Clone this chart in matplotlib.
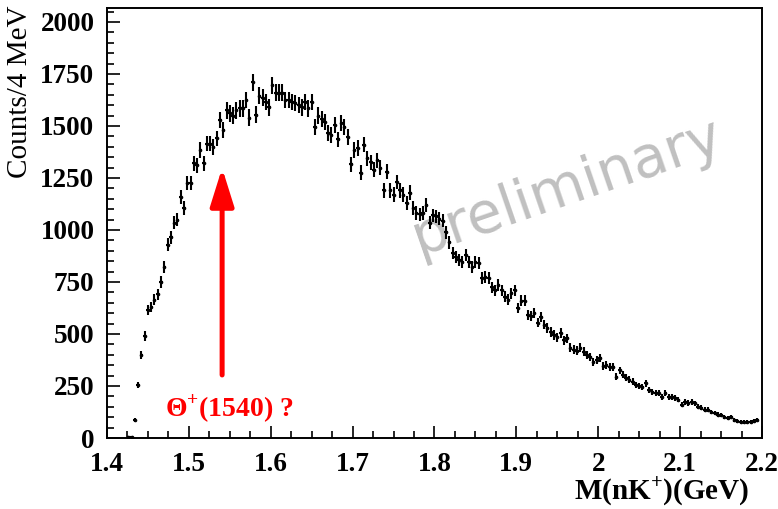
# nK+ invariant mass spectrum (counts / 4 MeV), ROOT-like look
import numpy as np
import matplotlib.pyplot as plt
from matplotlib.ticker import MultipleLocator, FuncFormatter

# ----------------------------------------------------
# data
# ----------------------------------------------------
bin_width = 0.004          # GeV
first_edge = 1.424         # lower edge of the first filled bin
counts = [
    3, 6, 85, 255, 400, 490, 615, 630, 665, 690,
    750, 820, 930, 965, 1035, 1050, 1160, 1105, 1225, 1225,
    1320, 1310, 1385, 1320, 1415, 1415, 1400, 1440, 1530, 1480,
    1575, 1560, 1550, 1575, 1585, 1585, 1625, 1540, 1710, 1555,
    1645, 1635, 1615, 1590, 1695, 1660, 1660, 1660, 1625, 1625,
    1615, 1610, 1600, 1590, 1615, 1585, 1615, 1495, 1550, 1535,
    1520, 1465, 1455, 1505, 1435, 1515, 1495, 1445, 1315, 1385,
    1395, 1275, 1410, 1345, 1325, 1290, 1335, 1300, 1190, 1280,
    1190, 1170, 1230, 1190, 1170, 1130, 1180, 1105, 1080, 1075,
    1080, 1120, 1035, 1070, 1065, 1055, 1045, 990, 940, 890,
    870, 855, 845, 880, 845, 820, 845, 840, 770, 775,
    770, 725, 710, 735, 710, 680, 665, 695, 710, 625,
    660, 660, 590, 585, 600, 555, 580, 545, 530, 510,
    495, 485, 505, 470, 480, 435, 425, 420, 435, 415,
    400, 390, 365, 375, 385, 345, 350, 340, 340, 295,
    325, 305, 290, 280, 270, 255, 250, 245, 262, 232,
    222, 218, 215, 197, 215, 198, 197, 193, 185, 160,
    172, 168, 172, 167, 150, 145, 136, 135, 125, 120,
    112, 110, 102, 97, 100, 88, 80, 77, 77, 77,
    77, 82, 85,
]
x_ticks = [1.4, 1.5, 1.6, 1.7, 1.8, 1.9, 2.0, 2.1, 2.2]
y_ticks = [0, 250, 500, 750, 1000, 1250, 1500, 1750, 2000]
arrow_mass = 1.5406
arrow_from, arrow_to = 303, 1298

counts = np.array(counts, dtype=float)
mass = first_edge + bin_width * (np.arange(len(counts)) + 0.5)

# ----------------------------------------------------
# figure
# ----------------------------------------------------
plt.rcParams["font.family"] = ["Liberation Serif", "DejaVu Serif"]
plt.rcParams["mathtext.fontset"] = "custom"
plt.rcParams["mathtext.rm"] = "Liberation Serif:bold"
plt.rcParams["mathtext.bf"] = "Liberation Serif:bold"

fig = plt.figure(figsize=(7.78, 5.09), dpi=100)
ax = fig.add_axes([107 / 778, 1 - 438 / 509, 655 / 778, 430 / 509])

ax.errorbar(mass, counts, yerr=np.sqrt(counts), xerr=bin_width / 2,
            fmt="o", ms=1.6, mfc="black", mec="black",
            ecolor="black", elinewidth=1.5, capsize=0)

ax.set_xlim(1.4, 2.2)
ax.set_ylim(0, 2067)
ax.set_xticks(x_ticks)
ax.set_yticks(y_ticks)
ax.xaxis.set_minor_locator(MultipleLocator(0.025))
ax.yaxis.set_minor_locator(MultipleLocator(50))
ax.xaxis.set_major_formatter(FuncFormatter(lambda v, p: "%g" % round(v, 2)))

ax.tick_params(which="both", direction="in", width=1.2, top=False, right=False)
ax.tick_params(which="major", length=9)
ax.tick_params(which="minor", length=5)
ax.tick_params(axis="x", pad=10, labelsize=19.5)
ax.tick_params(axis="y", pad=9, labelsize=19.5)
for lab in ax.get_xticklabels() + ax.get_yticklabels():
    lab.set_fontweight("bold")
for sp in ax.spines.values():
    sp.set_linewidth(1.4)

# axis titles, ROOT style (aligned at the end of the axes)
fig.text(20 / 778, 1 - 6 / 509, "Counts/4 MeV", rotation=90,
         ha="center", va="top", fontsize=21)
fig.text(749 / 778, 1 - 491 / 509, r"M(nK$^{+}$)(GeV)",
         ha="right", va="center", fontsize=21, fontweight="bold")

# red arrow at 1540 MeV
ax.annotate("", xy=(arrow_mass, arrow_to), xytext=(arrow_mass, arrow_from),
            arrowprops=dict(arrowstyle="-|>,head_length=1.15,head_width=0.36",
                            mutation_scale=20, color="red", lw=3.6,
                            shrinkA=0, shrinkB=0))
ax.text(1.471, 100, r"Θ$^{+}$(1540) ?", color="red", fontsize=20,
        fontweight="bold", ha="left", va="baseline")

# watermark
ax.text(1.962, 1205, "preliminary", color="#c0c0c0", fontsize=41,
        family="DejaVu Sans", rotation=19, rotation_mode="anchor",
        ha="center", va="center", zorder=0)

fig.savefig("out.png", dpi=100)
